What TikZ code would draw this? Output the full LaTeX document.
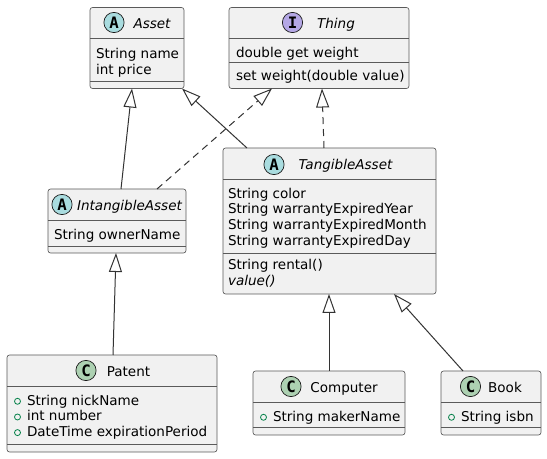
\documentclass[tikz,border=0pt]{standalone}
\usepackage{fontspec}
\setmainfont{DejaVu Sans}
\newfontfamily\iconfont{DejaVu Sans Mono}
\usetikzlibrary{arrows.meta}
\definecolor{boxfill}{HTML}{F1F1F1}
\definecolor{boxline}{HTML}{5A5A5A}
\definecolor{conn}{HTML}{333333}
\definecolor{absfill}{HTML}{A9DCDF}
\definecolor{intfill}{HTML}{B4A7E5}
\definecolor{clsfill}{HTML}{ADD1B2}
\definecolor{pubcol}{HTML}{038048}
\newcommand\ufont{\fontsize{10.15pt}{12pt}\selectfont}
\begin{document}
\begin{tikzpicture}[x=0.75pt,y=-0.75pt,
  box/.style={draw=boxline, fill=boxfill, line width=0.5pt, rounded corners=1.9pt, inner sep=0pt, outer sep=0pt, anchor=north west},
  sepline/.style={draw=boxline, line width=0.5pt},
  txt/.style={anchor=base west, inner sep=0pt, outer sep=0pt, font=\ufont},
  itxt/.style={anchor=base west, inner sep=0pt, outer sep=0pt, font=\ufont\itshape},
  ttl/.style={anchor=base, inner sep=0pt, font=\ufont\itshape},
  ttlr/.style={anchor=base, inner sep=0pt, font=\ufont},
  icon/.style={circle, draw=black!90, line width=0.5pt, minimum size=15.2pt, inner sep=0pt, font=\iconfont\bfseries\fontsize{11.8pt}{12pt}\selectfont},
  pub/.style={circle, draw=pubcol, line width=0.6pt, minimum size=4.5pt, inner sep=0pt},
  ext/.style={draw=conn, line width=0.75pt, -{Triangle[open, length=14.25pt, width=9.75pt]}},
  impl/.style={ext, dash pattern=on 5.25pt off 3.75pt}
]
\fill[white] (0,0) rectangle (547,459);
\useasboundingbox (0,0) rectangle (547,459);

% Asset
\node[box, minimum width=70.5pt, minimum height=60.75pt] (asset) at (90,7.5) {};
\draw[sepline] (90,38.5) -- (184,38.5);
\draw[sepline] (90,81.5) -- (184,81.5);
\node[icon, fill=absfill] (assetI) at (114,22.5) {A};
\node[ttl] (assetT) at (152,28.3) {Asset};
\node[txt] (assetF1) at (96,58.5) {String name};
\node[txt] (assetF2) at (96,74.3) {int price};

% Thing
\node[box, minimum width=135pt, minimum height=60.75pt] (thing) at (229,7.5) {};
\draw[sepline] (229,38.8) -- (409,38.8);
\draw[sepline] (229,62.5) -- (409,62.5);
\node[icon, fill=intfill] (thingI) at (292.5,22.5) {I};
\node[ttl] (thingT) at (336,28.3) {Thing};
\node[txt] (thingF1) at (236,58) {double get weight};
\node[txt] (thingM1) at (236,80.5) {set weight(double value)};

% IntangibleAsset
\node[box, minimum width=103.5pt, minimum height=48pt] (intang) at (48,189) {};
\draw[sepline] (48,220) -- (186,220);
\draw[sepline] (48,246.3) -- (186,246.3);
\node[icon, fill=absfill] (intangI) at (62,204.5) {A};
\node[ttl] (intangT) at (129.5,210.3) {IntangibleAsset};
\node[txt] (intangF1) at (54,239.3) {String ownerName};

% TangibleAsset
\node[box, minimum width=159.75pt, minimum height=109.5pt] (tang) at (223,148) {};
\draw[sepline] (223,179) -- (436,179);
\draw[sepline] (223,253.5) -- (436,253.5);
\node[icon, fill=absfill] (tangI) at (274,164.5) {A};
\node[ttl] (tangT) at (345.5,170) {TangibleAsset};
\node[txt] (tangF1) at (228,198.3) {String color};
\node[txt] (tangF2) at (228,214) {String warrantyExpiredYear};
\node[txt] (tangF3) at (228,229.7) {String warrantyExpiredMonth};
\node[txt] (tangF4) at (228,245.3) {String warrantyExpiredDay};
\node[txt] (tangM1) at (228,270) {String rental()};
\node[itxt] (tangM2) at (228,285.7) {value()};

% Patent
\node[box, minimum width=157.5pt, minimum height=72.75pt] (patent) at (7,355) {};
\draw[sepline] (7,386) -- (217,386);
\draw[sepline] (7,444) -- (217,444);
\node[icon, fill=clsfill] (patentI) at (86,370.5) {C};
\node[ttlr] (patentT) at (128.5,376.3) {Patent};
\node[pub] (patentP1) at (17.5,401.3) {};
\node[pub] (patentP2) at (17.5,417) {};
\node[pub] (patentP3) at (17.5,432.6) {};
\node[txt] (patentF1) at (27,405.3) {String nickName};
\node[txt] (patentF2) at (27,421) {int number};
\node[txt] (patentF3) at (27,436.6) {DateTime expirationPeriod};

% Computer
\node[box, minimum width=114pt, minimum height=48pt] (computer) at (253,371) {};
\draw[sepline] (253,402) -- (405,402);
\draw[sepline] (253,427.5) -- (405,427.5);
\node[icon, fill=clsfill] (computerI) at (291,386.5) {C};
\node[ttlr] (computerT) at (344,392.3) {Computer};
\node[pub] (computerP1) at (263.5,417.3) {};
\node[txt] (computerF1) at (273,421.3) {String makerName};

% Book
\node[box, minimum width=75pt, minimum height=48pt] (book) at (441,371) {};
\draw[sepline] (441,402) -- (541,402);
\draw[sepline] (441,427.5) -- (541,427.5);
\node[icon, fill=clsfill] (bookI) at (470.5,386.5) {C};
\node[ttlr] (bookT) at (505,392.3) {Book};
\node[pub] (bookP1) at (451.5,417.3) {};
\node[txt] (bookF1) at (461,421.3) {String isbn};

% Connectors
\draw[ext] ([xshift=54.75pt]intang.north west) -- ([xshift=31.5pt]asset.south west);
\draw[ext] ([xshift=18pt]tang.north west) -- ([xshift=69pt]asset.south west);
\draw[impl] ([xshift=81.75pt]intang.north west) -- ([xshift=32.25pt]thing.south west);
\draw[impl] ([xshift=75.75pt]tang.north west) -- ([xshift=69.75pt]thing.south west);
\draw[ext] ([xshift=79.5pt]patent.north west) -- ([xshift=51pt]intang.south west);
\draw[ext] ([xshift=57pt]computer.north west) -- ([xshift=79.5pt]tang.south west);
\draw[ext] ([xshift=16.5pt]book.north west) -- ([xshift=128.25pt]tang.south west);
\end{tikzpicture}
\end{document}
